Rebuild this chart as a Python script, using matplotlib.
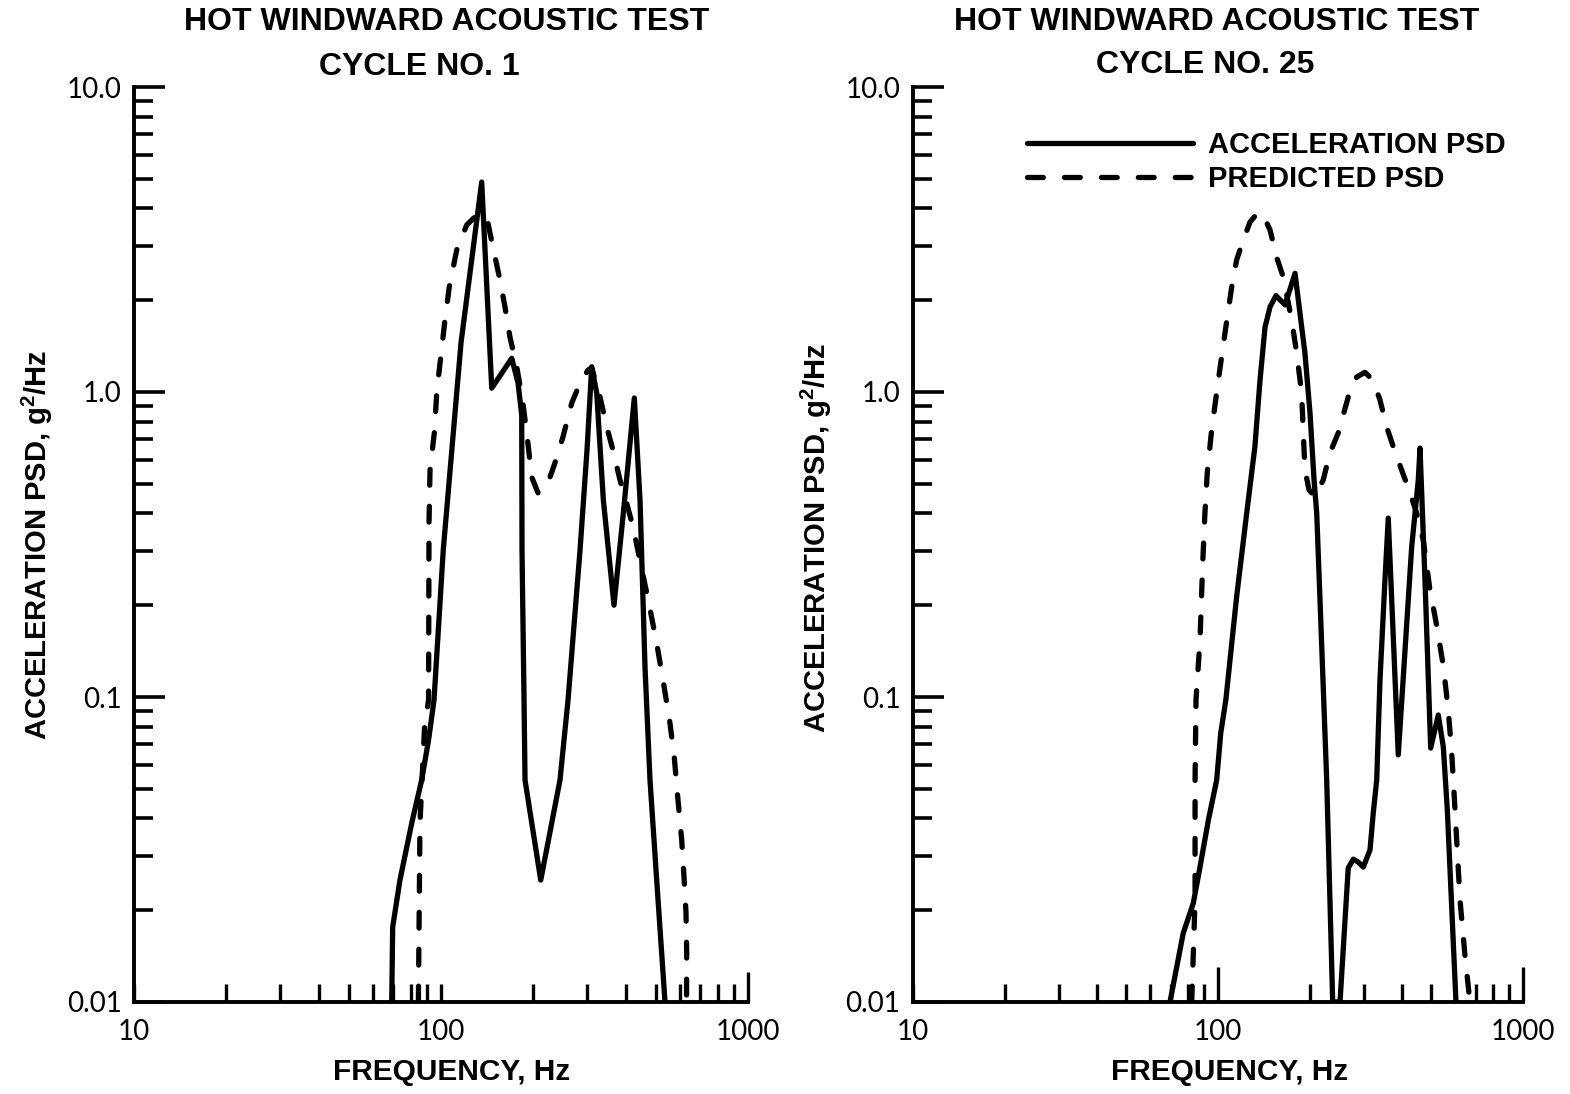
import matplotlib
matplotlib.use("Agg")
import matplotlib.pyplot as plt
from matplotlib.ticker import LogLocator, NullFormatter

plt.rcParams['mathtext.fontset'] = 'custom'
plt.rcParams['mathtext.rm'] = 'Liberation Sans:bold'
plt.rcParams['mathtext.bf'] = 'Liberation Sans:bold'
plt.rcParams['mathtext.it'] = 'Liberation Sans:bold'

# ---- Cycle No. 1 -------------------------------------------------------
c1_meas_freq = [69.1, 69.6, 73.5, 80.3, 86.5, 91.1, 94.9, 101.7, 116.2, 135.7,
                146.3, 170.0, 178.2, 183.2, 183.6, 186.4, 187.8, 211.3, 244.1,
                259.3, 283.7, 299.0, 309.7, 321.5, 337.9, 366.0, 392.6, 426.3,
                444.9, 461.9, 479.5, 504.2, 536.6]
c1_meas_psd = [0.01, 0.0176, 0.0251, 0.0386, 0.0534, 0.0723, 0.0978, 0.303, 1.45,
               4.88, 1.03, 1.29, 1.07, 0.84, 0.303, 0.0978, 0.0534, 0.0251, 0.0534,
               0.0978, 0.303, 0.646, 1.21, 0.993, 0.443, 0.200, 0.401, 0.956,
               0.443, 0.125, 0.0534, 0.0251, 0.01]

c1_pred_freq = [84.4, 85.4, 88.4, 91.1, 91.4, 92.1, 95.1, 97.0, 99.8, 103.0, 106.4,
                112.5, 121.3, 129.0, 135.7, 142.2, 147.6, 155.6, 161.6, 167.8,
                176.5, 184.9, 191.9, 197.5, 207.0, 220.8, 235.0, 249.6, 266.6,
                283.7, 301.2, 309.7, 329.6, 346.6, 363.1, 382.8, 402.6, 422.1,
                475.9, 504.2, 529.9, 555.2, 575.1, 591.6, 608.2, 618.8, 628.1,
                631.4, 630.6]
c1_pred_psd = [0.01, 0.0386, 0.0798, 0.0978, 0.372, 0.555, 0.734, 1.015, 1.30, 1.72,
               2.21, 2.92, 3.53, 3.75, 3.86, 3.58, 2.99, 2.33, 1.90, 1.51, 1.21,
               0.92, 0.68, 0.526, 0.467, 0.489, 0.585, 0.712, 0.92, 1.07, 1.18,
               1.20, 0.963, 0.768, 0.646, 0.515, 0.432, 0.361, 0.202, 0.150,
               0.112, 0.0841, 0.0636, 0.0459, 0.034, 0.0257, 0.0196, 0.0145, 0.01]

# ---- Cycle No. 25 ------------------------------------------------------
c25_meas_freq = [69.6, 76.9, 83.0, 87.3, 93.0, 99.0, 102.1, 106.1, 115.1, 124.2,
                 132.1, 137.3, 142.6, 148.1, 154.9, 165.9, 178.9, 185.7, 192.8,
                 200.3, 206.5, 210.7, 215.8, 227.2, 237.7, 251.2, 267.3, 277.7,
                 287.7, 299.5, 315.0, 322.9, 331.4, 339.7, 352.7, 361.6, 390.0,
                 431.5, 453.6, 459.5, 477.1, 498.1, 527.6, 547.9, 564.8, 602.9]
c25_meas_psd = [0.01, 0.0168, 0.0211, 0.0277, 0.0395, 0.0534, 0.0762, 0.0978, 0.213,
                0.401, 0.661, 1.09, 1.63, 1.90, 2.07, 1.93, 2.45, 1.81, 1.34, 0.853,
                0.515, 0.401, 0.213, 0.0534, 0.01, 0.01, 0.0275, 0.0294, 0.0288,
                0.0277, 0.0315, 0.0417, 0.0534, 0.1138, 0.242, 0.386, 0.0646,
                0.310, 0.515, 0.655, 0.242, 0.068, 0.0873, 0.0686, 0.0426, 0.01]

c25_pred_freq = [82.0, 84.1, 84.1, 84.7, 87.3, 89.1, 90.6, 92.2, 95.3, 100.2, 105.4,
                 110.9, 115.1, 121.0, 127.4, 135.6, 141.5, 148.1, 155.6, 163.7,
                 174.4, 181.2, 188.0, 190.4, 192.8, 198.8, 208.0, 221.3, 232.8,
                 247.9, 267.3, 284.9, 303.4, 322.9, 339.6, 357.4, 375.6, 400.0,
                 426.2, 447.9, 471.0, 495.5, 522.1, 548.8, 569.8, 583.8, 594.3,
                 621.6, 645.7, 669.9]
c25_pred_psd = [0.01, 0.0216, 0.0534, 0.0978, 0.154, 0.275, 0.401, 0.543, 0.750, 1.09,
                1.56, 2.21, 2.71, 3.15, 3.61, 3.89, 3.75, 3.40, 2.77, 2.38, 1.72,
                1.34, 0.993, 0.734, 0.555, 0.478, 0.453, 0.515, 0.631, 0.734, 0.963,
                1.12, 1.16, 1.09, 0.942, 0.768, 0.661, 0.555, 0.467, 0.401, 0.327,
                0.224, 0.170, 0.125, 0.0887, 0.0655, 0.0484, 0.0216, 0.0141, 0.01]

# ---- Axis annotation ----------------------------------------------------
x_ticks = [10, 100, 1000]
x_tick_labels = ["10", "100", "1000"]
y_ticks = [0.01, 0.1, 1.0, 10.0]
y_tick_labels = ["0.01", "0.1", "1.0", "10.0"]

title_line1 = "HOT WINDWARD ACOUSTIC TEST"
titles_line2 = ["CYCLE NO. 1", "CYCLE NO. 25"]
x_label = "FREQUENCY, Hz"
y_label = r"ACCELERATION PSD, g$^{2}$/Hz"
legend_labels = ["ACCELERATION PSD", "PREDICTED PSD"]

W, H = 1570, 1094
fig = plt.figure(figsize=(W / 100, H / 100), dpi=100)
fig.patch.set_facecolor("white")


def fig_xy(px, py):
    return px / W, 1 - py / H


LW = 3.8
DASH = (0, (3.0, 4.0))
BOLD = dict(family="Liberation Sans", weight="bold", color="black")


def style_axes(ax, long_major_x):
    ax.set_xscale("log")
    ax.set_yscale("log")
    ax.set_xlim(10, 1000)
    ax.set_ylim(0.01, 10)
    for s in ("top", "right"):
        ax.spines[s].set_visible(False)
    for s in ("left", "bottom"):
        ax.spines[s].set_linewidth(2.8)
    ax.set_xticks(x_ticks, x_tick_labels)
    ax.set_yticks(y_ticks, y_tick_labels)
    ax.xaxis.set_minor_locator(LogLocator(base=10, subs=range(2, 10)))
    ax.yaxis.set_minor_locator(LogLocator(base=10, subs=range(2, 10)))
    ax.xaxis.set_minor_formatter(NullFormatter())
    ax.yaxis.set_minor_formatter(NullFormatter())
    ax.tick_params(axis="y", which="major", direction="in", length=22, width=2.6, pad=9)
    ax.tick_params(axis="y", which="minor", direction="in", length=14, width=2.6)
    ax.tick_params(axis="x", which="major", direction="in", length=13, width=2.4, pad=12)
    ax.tick_params(axis="x", which="minor", direction="in", length=13, width=2.4)
    for lab in ax.get_xticklabels() + ax.get_yticklabels():
        lab.set_fontfamily("Lato")
        lab.set_fontweight("normal")
        lab.set_fontsize(20)
        lab.set_color("black")
    ticks = ax.xaxis.get_major_ticks()
    for i, length in long_major_x.items():
        ticks[i].tick1line.set_markersize(length)


ax1 = fig.add_axes([134 / W, 1 - 1002 / H, 614 / W, 915 / H])
ax2 = fig.add_axes([913 / W, 1 - 1002 / H, 610 / W, 915 / H])

ax1.plot(c1_meas_freq, c1_meas_psd, color="black", lw=LW,
         solid_capstyle="round", solid_joinstyle="round")
ax1.plot(c1_pred_freq, c1_pred_psd, color="black", lw=LW, linestyle=DASH,
         dash_capstyle="round", dash_joinstyle="round")

h_meas, = ax2.plot(c25_meas_freq, c25_meas_psd, color="black", lw=LW,
                   solid_capstyle="round", solid_joinstyle="round")
h_pred, = ax2.plot(c25_pred_freq, c25_pred_psd, color="black", lw=LW, linestyle=DASH,
                   dash_capstyle="round", dash_joinstyle="round")

style_axes(ax1, {2: 21.5})
style_axes(ax2, {1: 25, 2: 25})

# Titles, axis labels
for (x1, y1), (x2, y2), line2 in [((447, 22), (419, 67), titles_line2[0]),
                                  ((1217, 22), (1205, 65), titles_line2[1])]:
    fig.text(*fig_xy(x1, y1), title_line1, ha="center", va="center", fontsize=23, **BOLD)
    fig.text(*fig_xy(x2, y2), line2, ha="center", va="center", fontsize=23, **BOLD)

for (xx, yy) in [(452, 1072), (1230, 1072)]:
    fig.text(*fig_xy(xx, yy), x_label, ha="center", va="center", fontsize=21.5, **BOLD)

for (xx, yy) in [(37, 545), (816, 538)]:
    fig.text(*fig_xy(xx, yy), y_label, ha="center", va="center", rotation=90,
             fontsize=21, **BOLD)

leg = ax2.legend([h_meas, h_pred], legend_labels, loc="upper left",
                 bbox_to_anchor=fig_xy(1027, 131), bbox_transform=fig.transFigure,
                 frameon=False, borderpad=0, borderaxespad=0, handlelength=5.7,
                 handletextpad=0.5, labelspacing=0.2,
                 prop=dict(family="Liberation Sans", weight="bold", size=21))

fig.savefig("out.png", dpi=100, facecolor="white")
